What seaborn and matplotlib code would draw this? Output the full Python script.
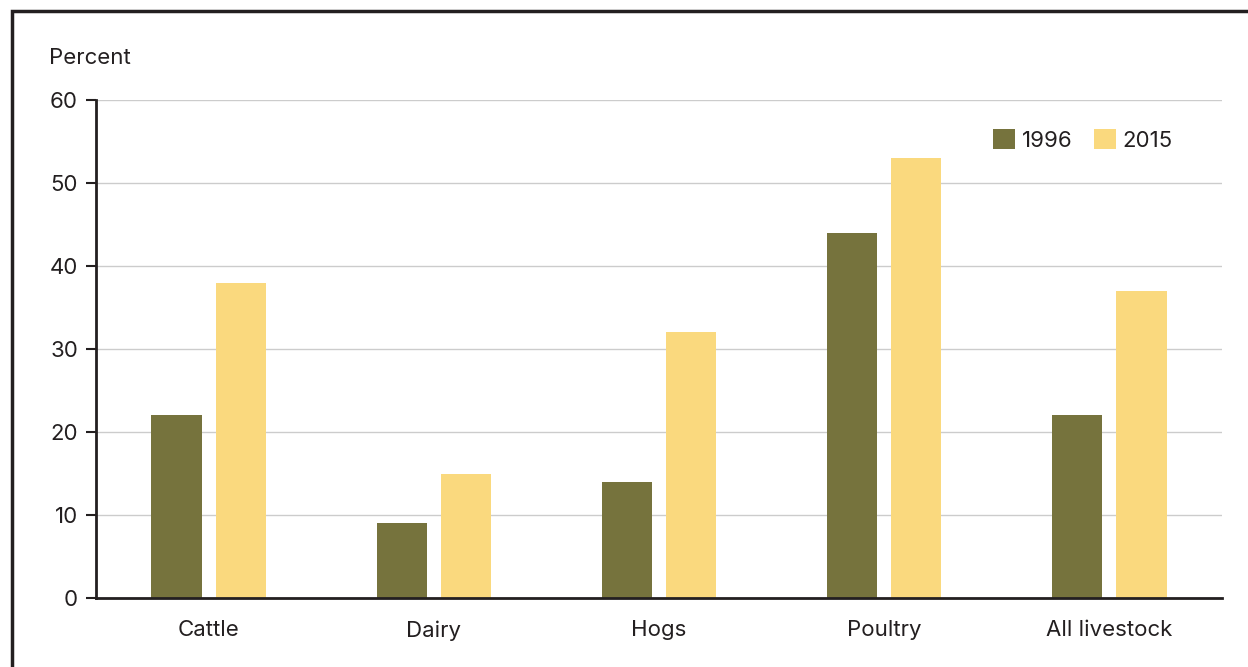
import matplotlib
matplotlib.use("Agg")
import matplotlib.pyplot as plt
import matplotlib.patches as mpatches
import seaborn as sns
import pandas as pd

categories = ["Cattle", "Dairy", "Hogs", "Poultry", "All livestock"]
years = ["1996", "2015"]
values_1996 = [22, 9, 14, 44, 22]
values_2015 = [38, 15, 32, 53, 37]
colors = ["#76733D", "#FAD97E"]

df = pd.DataFrame({
    "category": categories * 2,
    "year": [years[0]] * 5 + [years[1]] * 5,
    "value": values_1996 + values_2015,
})

sns.set_theme(style="white")
plt.rcParams["font.family"] = ["Inter", "DejaVu Sans"]
text_color = "#231f20"

fig = plt.figure(figsize=(12.48, 6.67), dpi=100)
ax = fig.add_axes([96 / 1248, 69 / 667, (1222 - 96) / 1248, (598 - 100) / 667])

sns.barplot(data=df, x="category", y="value", hue="year", palette=colors,
            width=0.57, gap=0.22, ax=ax, saturation=1, linewidth=0, legend=True)

ax.set_ylim(0, 60)
ax.set_xlim(-0.5, 4.5)
ax.set_yticks(range(0, 61, 10))
ax.yaxis.grid(True, color="#cccccc", linewidth=1)
ax.set_axisbelow(True)
ax.set_xlabel("")
ax.set_ylabel("")
for s in ["top", "right"]:
    ax.spines[s].set_visible(False)
for s in ["left", "bottom"]:
    ax.spines[s].set_color(text_color)
    ax.spines[s].set_linewidth(2)
ax.tick_params(axis="y", left=True, length=7, width=1.5, color=text_color,
               labelsize=16, labelcolor=text_color, pad=6)
ax.tick_params(axis="x", bottom=False, labelsize=16, labelcolor=text_color, pad=10)

fig.text(49 / 1248, 1 - 58 / 667, "Percent", fontsize=16, color=text_color,
         ha="left", va="center")

ax.legend(loc="center right", bbox_to_anchor=(1184 / 1248, 1 - 140 / 667),
          bbox_transform=fig.transFigure, ncol=2, frameon=False,
          fontsize=16, handlelength=1.0, handleheight=1.0, handletextpad=0.3,
          columnspacing=0.95, labelcolor=text_color, borderpad=0)

# outer frame (top and left edges visible)
fig.add_artist(mpatches.Rectangle((12 / 1248, -0.1), 1.2, (667 - 11) / 667 + 0.1,
                                  transform=fig.transFigure, fill=False,
                                  edgecolor=text_color, linewidth=2.5))

fig.savefig("out.png", dpi=100)
